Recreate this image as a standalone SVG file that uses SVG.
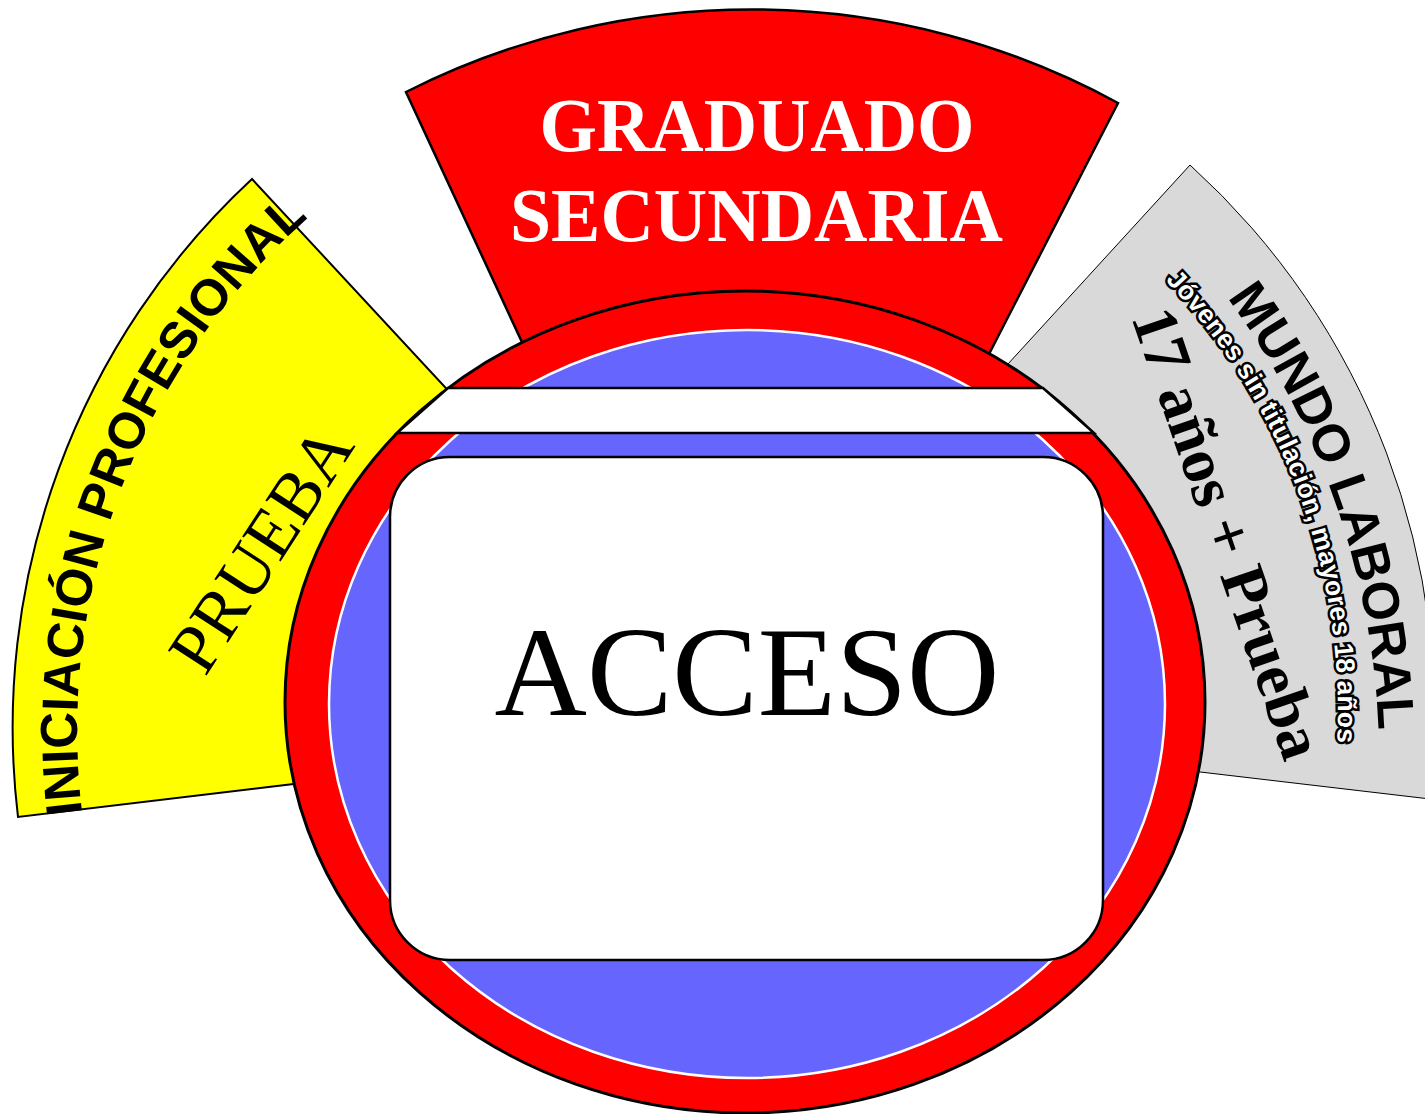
<svg xmlns="http://www.w3.org/2000/svg" width="1425" height="1114" viewBox="0 0 1425 1114">
  <style>
    .sans { font-family: "Liberation Sans", Arial, sans-serif; font-weight: bold; }
    .serif { font-family: "Liberation Serif", "Times New Roman", serif; }
  </style>
  <defs>
    <path id="arcIni" d="M 82.4,813.7 A 684 684 0 0 1 420,137.4" fill="none"/>
    <path id="arcMundo" d="M 1227.0,297.7 A 779 779 0 0 1 1352.5,961.6" fill="none"/>
    <path id="arcJov" d="M 1165.3,280.3 A 626 626 0 0 1 1328.5,820.7" fill="none"/>
  </defs>
  <rect width="1425" height="1114" fill="#ffffff"/>

  <g id="graduado">
    <path d="M 559,422 L 406,92 A 765 765 0 0 1 1118,103 L 951,428 Z" fill="#ff0000" stroke="#000" stroke-width="2.5"/>
    <text class="serif" x="757" y="151" font-size="77" font-weight="bold" fill="#fff" text-anchor="middle" textLength="435" lengthAdjust="spacingAndGlyphs">GRADUADO</text>
    <text class="serif" x="756.5" y="241" font-size="77" font-weight="bold" fill="#fff" text-anchor="middle" textLength="493" lengthAdjust="spacingAndGlyphs">SECUNDARIA</text>
  </g>

  <g id="iniciacion">
    <path d="M 532,481 L 252,179 A 748 748 0 0 0 18,817 L 427,768 Z" fill="#ffff00" stroke="#000" stroke-width="2"/>
    <text class="sans" font-size="51" fill="#000"><textPath href="#arcIni">INICIACIÓN PROFESIONAL</textPath></text>
    <text class="serif" font-size="70" fill="#000" text-anchor="middle" transform="translate(280.5,561.6) rotate(-57)">PRUEBA</text>
  </g>

  <g id="mundo">
    <path d="M 890,493 L 1190,165 A 743 743 0 0 1 1430,799 L 996,748 Z" fill="#d9d9d9" stroke="#000" stroke-width="1"/>
    <text class="sans" font-size="52" fill="#000"><textPath href="#arcMundo">MUNDO LABORAL</textPath></text>
    <text class="sans" font-size="26.5" fill="#fff" stroke="#000" stroke-width="5" stroke-linejoin="miter" paint-order="stroke"><textPath href="#arcJov">Jóvenes sin titulación, mayores 18 años</textPath></text>
    <text class="serif" font-size="64" font-weight="bold" fill="#000" transform="translate(1131,317) rotate(71)">17 años + Prueba</text>
  </g>

  <g id="acceso">
    <ellipse cx="745" cy="702" rx="460" ry="411" fill="#ff0000" stroke="#000" stroke-width="3"/>
    <ellipse cx="747" cy="704" rx="418" ry="374" fill="#6666ff" stroke="#fff" stroke-width="2.5"/>
    <polygon points="448,388 1043,388 1094,433 397,433" fill="#fff" stroke="#000" stroke-width="2.5"/>
    <rect x="390" y="457" width="713" height="503" rx="60" ry="60" fill="#fff" stroke="#000" stroke-width="2.5"/>
    <text class="serif" x="747" y="715" font-size="128" fill="#000" text-anchor="middle">ACCESO</text>
  </g>

  <g id="connectors"></g>
</svg>
